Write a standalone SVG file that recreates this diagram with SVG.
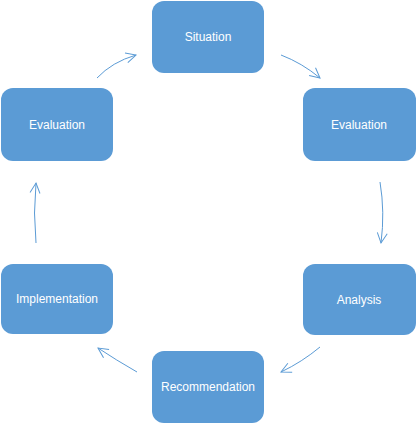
<svg xmlns="http://www.w3.org/2000/svg" width="417" height="424" viewBox="0 0 417 424">
<defs>
<style>
.box{fill:#5B9BD5;}
.lbl{fill:#fff;font-family:"Liberation Sans",Arial,sans-serif;font-size:12px;text-anchor:middle;}
.con{fill:none;stroke:#5B9BD5;stroke-width:1;marker-end:url(#ah);}
</style>
<marker id="ah" viewBox="0 0 12 12" refX="11" refY="6" markerWidth="12" markerHeight="12" markerUnits="userSpaceOnUse" orient="auto">
<path d="M1,1 L11,6 L1,11" fill="none" stroke="#5B9BD5" stroke-width="1"/>
</marker>
</defs>
<rect width="417" height="424" fill="#fff"/>
<g id="connectors">
<path class="con" d="M97,78 Q112,62 136,55"/>
<path class="con" d="M281,55 Q302,63 320,78"/>
<path class="con" d="M380,182 Q385,212 381,243"/>
<path class="con" d="M320,347 Q302,362 281,372"/>
<path class="con" d="M137,372 Q116,360 98,348"/>
<path class="con" d="M36,243 Q33,213 36,183"/>
</g>
<g id="situation"><rect class="box" x="152" y="1" width="112" height="72" rx="12"/><text class="lbl" x="208" y="41">Situation</text></g>
<g id="evaluation-right"><rect class="box" x="303" y="88" width="113" height="73" rx="12"/><text class="lbl" x="359" y="129">Evaluation</text></g>
<g id="analysis"><rect class="box" x="303" y="264" width="113" height="71" rx="12"/><text class="lbl" x="359" y="304">Analysis</text></g>
<g id="recommendation"><rect class="box" x="152" y="351" width="112" height="72" rx="12"/><text class="lbl" x="208" y="391">Recommendation</text></g>
<g id="implementation"><rect class="box" x="1" y="264" width="112" height="70" rx="12"/><text class="lbl" x="57" y="303">Implementation</text></g>
<g id="evaluation-left"><rect class="box" x="1" y="88" width="112" height="73" rx="12"/><text class="lbl" x="57" y="129">Evaluation</text></g>
</svg>
